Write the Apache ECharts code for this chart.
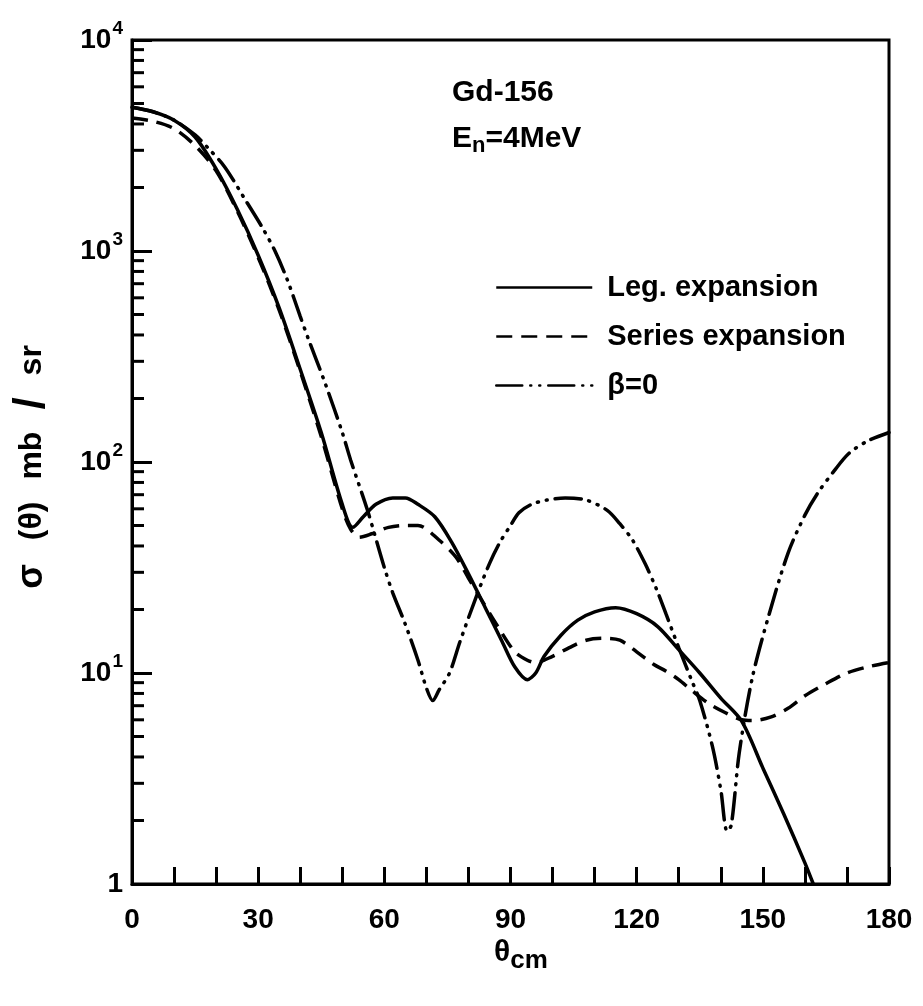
<!DOCTYPE html>
<html>
<head>
<meta charset="utf-8">
<script src="https://cdn.jsdelivr.net/npm/echarts@6/dist/echarts.min.js"></script>
<style>
html,body{margin:0;padding:0;background:#fff;}
#chart{width:923px;height:1006px;}
</style>
</head>
<body>
<div id="chart"></div>
<script>
// ---- data ----
const legTheta  = [0,5,10,15,20,25,30,35,40,45,50,52.5,55,58,62,65,68,72,76,80,84,88,91,94,96,98,102,106,110,115,120,125,130,135,140,145,150,155,160,162];
const legSigma  = [4800,4570,4170,3470,2450,1580,955,537,275,138,63,49,55,63,67.6,67.6,63,55,41.7,29.5,20.4,14.1,10.7,9.3,10,12,15.1,17.8,19.5,20.4,19.1,16.6,12.9,10,7.6,5.9,3.55,2.14,1.26,1.0];

const serTheta  = [0,5,10,15,20,25,30,35,40,45,50,52,54,57,61,65,68,73,77,80,83,87,91,94,96,100,104,108,112,116,120,124,127,130,133,137,141,145,147.5,152,156,160,165,170,175,180];
const serSigma  = [4270,4120,3800,3160,2400,1550,933,525,269,132,60,48,44,45.7,49,50,50,42.7,35.5,28.2,22.4,16.6,12.6,11.5,11.2,12,13.2,14.3,14.6,14.3,12.6,11,10.2,9.3,8.3,7.2,6.5,6.0,5.95,6.2,6.8,7.8,8.9,10,10.7,11.2];

const betaTheta = [0,5,10,15,18,22,27,31,34,37,40,42,46,50,52,56,60,62,65,68,70,71.5,73,75.5,78,82,85,87.5,90,92,95,98.6,103,108,113,116,119,122,124.7,127,130,133,135,138,140,141.5,142.5,144.4,147.5,151.5,156,160,163,167,170.5,175,180];
const betaSigma = [4800,4570,4170,3550,3090,2510,1740,1290,1000,724,490,380,234,138,102,59,31.6,24,17,11.5,8.5,7.4,8.3,10,14.1,23.4,33,41.7,50,57.5,63,66,67.6,66,59,51,42.7,33,25,19,13.2,9.3,7.4,4.5,2.8,1.78,1.9,4.2,9.5,19,37,56,71,91,110,126,138];

const seriesNames = ['Leg. expansion', 'Series expansion', 'β=0'];
const xTickLabels = ['0','30','60','90','120','150','180'];
const yTickLabels = ['1','10^1','10^2','10^3','10^4'];
const yMinorTicks = [2,3,4,5,6,7,8,9,20,30,40,50,60,70,80,90,200,300,400,500,600,700,800,900,2000,3000,4000,5000,6000,7000,8000,9000];
const annotations = ['Gd-156', 'E_n=4MeV'];
const xAxisTitle = 'θ_cm';
const yAxisTitleParts = ['σ', '(θ)', 'mb', '/', 'sr'];

// ---- chart ----
const FONT = '"Liberation Sans", Arial, sans-serif';
const pairs = (xs, ys) => xs.map((x, i) => [x, ys[i]]);

const chart = echarts.init(document.getElementById('chart'), null, {renderer: 'canvas'});

const yLabelFor = (v) => {
  for (const t of yTickLabels) {
    const val = t.includes('^') ? Math.pow(10, +t.split('^')[1]) : +t;
    if (Math.abs(val - v) < 1e-6 * Math.max(1, v)) {
      if (t.includes('^')) {
        const [b, e] = t.split('^');
        return '{b|' + b + '}{s|' + e + '}';
      }
      return '{b|' + t + '}';
    }
  }
  return '';
};

const enParts = annotations[1].split('_');          // ['E', 'n=4MeV']
const enText = '{a|' + enParts[0] + '}{s|' + enParts[1].charAt(0) + '}{a|' + enParts[1].slice(1) + '}';
const xt = xAxisTitle.split('_');
const yTitleRich = '{g|' + yAxisTitleParts[0] + '}{p|' + yAxisTitleParts[1] + '}{p|' + yAxisTitleParts[2] + '}{sl|' + yAxisTitleParts[3] + '}{q|' + yAxisTitleParts[4] + '}';

const option = {
  animation: false,
  backgroundColor: '#fff',
  grid: {left: 132, right: 34, top: 40, bottom: 122, show: true, borderColor: '#000', borderWidth: 3, containLabel: false},
  xAxis: {
    type: 'value', min: 0, max: 180, interval: 10,
    axisLine: {lineStyle: {color: '#000', width: 3}},
    axisTick: {inside: true, length: 17, lineStyle: {color: '#000', width: 3}},
    splitLine: {show: false},
    axisLabel: {
      margin: 22, color: '#000', fontFamily: FONT, fontWeight: 'bold', fontSize: 28,
      formatter: (v) => xTickLabels.includes(String(v)) ? String(v) : ''
    }
  },
  yAxis: {
    type: 'log', logBase: 10, min: 1, max: 10000,
    axisLine: {lineStyle: {color: '#000', width: 3}},
    axisTick: {inside: true, length: 20, lineStyle: {color: '#000', width: 3}},
    splitLine: {show: false},
    axisLabel: {
      margin: 9, color: '#000', fontFamily: FONT, fontWeight: 'bold',
      formatter: yLabelFor,
      rich: {
        b: {fontSize: 28, fontWeight: 'bold', fontFamily: FONT, color: '#000'},
        s: {fontSize: 19, fontWeight: 'bold', fontFamily: FONT, color: '#000', padding: [0, 0, 22, 1]}
      }
    }
  },
  legend: {
    orient: 'vertical', left: 490, top: 268,
    itemWidth: 96, itemHeight: 16, itemGap: 20,
    data: seriesNames,
    lineStyle: {width: 2.5},
    itemStyle: {opacity: 0},
    textStyle: {color: '#000', fontFamily: FONT, fontWeight: 'bold', fontSize: 29, padding: [0, 0, 0, 10]}
  },
  series: [
    {
      name: seriesNames[0], type: 'line', data: pairs(legTheta, legSigma),
      showSymbol: false, symbol: 'none', smooth: 0.3,
      lineStyle: {color: '#000', width: 3.5, type: 'solid'}, itemStyle: {color: '#000'}
    },
    {
      name: seriesNames[1], type: 'line', data: pairs(serTheta, serSigma),
      showSymbol: false, symbol: 'none', smooth: 0.3,
      lineStyle: {color: '#000', width: 3.5, type: [16, 9]}, itemStyle: {color: '#000'}
    },
    {
      name: seriesNames[2], type: 'line', data: pairs(betaTheta, betaSigma),
      showSymbol: false, symbol: 'none', smooth: 0.3,
      lineStyle: {color: '#000', width: 3.5, type: [26, 8, 1, 8, 1, 8], cap: 'round'}, itemStyle: {color: '#000'}
    },
    {
      type: 'custom', silent: true, clip: false, z: 5,
      data: yMinorTicks.map(v => [0, v]),
      renderItem: (params, api) => {
        const p = api.coord([api.value(0), api.value(1)]);
        return {type: 'line', shape: {x1: p[0], y1: p[1], x2: p[0] + 12, y2: p[1]}, style: {stroke: '#000', lineWidth: 3}};
      }
    }
  ],
  graphic: [
    {
      type: 'text', left: 452, top: 78,
      style: {text: annotations[0], fill: '#000', font: 'bold 30px ' + FONT}
    },
    {
      type: 'text', left: 452, top: 124,
      style: {
        text: enText, fill: '#000',
        rich: {
          a: {fontSize: 30, fontWeight: 'bold', fontFamily: FONT, fill: '#000'},
          s: {fontSize: 22, fontWeight: 'bold', fontFamily: FONT, fill: '#000', padding: [14, 0, 0, 0]}
        }
      }
    },
    {
      type: 'text', left: 494, top: 938,
      style: {
        text: '{a|' + xt[0] + '}{s|' + xt[1] + '}', fill: '#000',
        rich: {
          a: {fontSize: 30, fontWeight: 'bold', fontFamily: FONT, fill: '#000'},
          s: {fontSize: 26, fontWeight: 'bold', fontFamily: FONT, fill: '#000', padding: [16, 0, 0, 0]}
        }
      }
    },
    {
      type: 'text', x: 32, y: 467, rotation: Math.PI / 2,
      style: {
        text: yTitleRich, fill: '#000', align: 'center', verticalAlign: 'middle',
        rich: {
          g: {fontSize: 36, fontWeight: 'bold', fontFamily: FONT, fill: '#000', padding: [0, 24, 0, 0]},
          p: {fontSize: 32, fontWeight: 'bold', fontFamily: FONT, fill: '#000', padding: [0, 22, 0, 0]},
          sl: {fontSize: 44, fontWeight: 'bold', fontFamily: FONT, fill: '#000', padding: [0, 22, 0, 0]},
          q: {fontSize: 32, fontWeight: 'bold', fontFamily: FONT, fill: '#000'}
        }
      }
    }
  ]
};
chart.setOption(option);
</script>
</body>
</html>
